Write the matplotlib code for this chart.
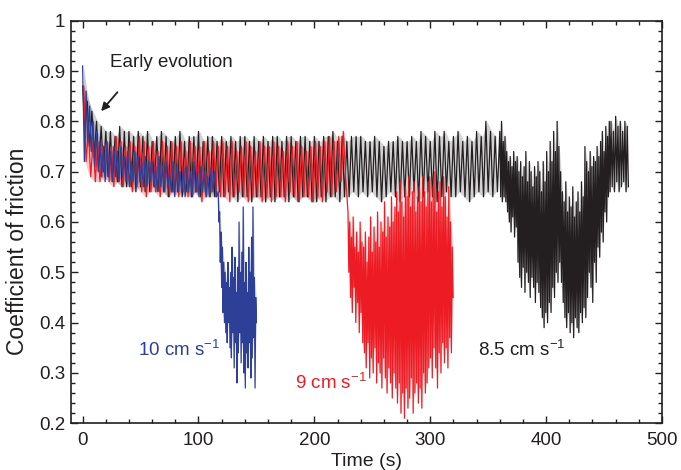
import numpy as np
import matplotlib
matplotlib.use('Agg')
import matplotlib.pyplot as plt
from matplotlib.ticker import MultipleLocator

plt.rcParams['font.family'] = ['Liberation Sans', 'DejaVu Sans']
plt.rcParams['mathtext.fontset'] = 'custom'
plt.rcParams['mathtext.rm'] = 'Liberation Sans'

# stick-slip peaks (hi) and troughs (lo), one pair per cycle,
# each trace split in segments with their own start time and cycle length

# 8.5 cm/s
black_t0, black_period = 0.0, 4.0
black_hi = [0.87, 0.84, 0.82, 0.80, 0.79, 0.78, 0.78, 0.77, 0.79, 0.78,
            0.78, 0.77, 0.78, 0.77, 0.78, 0.76, 0.77, 0.78, 0.77, 0.76,
            0.77, 0.78, 0.76, 0.77, 0.77, 0.78, 0.76, 0.77, 0.77, 0.76,
            0.77, 0.76, 0.77, 0.76, 0.77, 0.77, 0.76, 0.77, 0.76, 0.77,
            0.76, 0.77, 0.77, 0.76, 0.77, 0.77, 0.76, 0.77, 0.77, 0.76,
            0.77, 0.76, 0.77, 0.77, 0.78, 0.76, 0.77, 0.76, 0.77, 0.77,
            0.77, 0.76, 0.76, 0.77, 0.76, 0.75, 0.76, 0.76, 0.77, 0.76,
            0.76, 0.77, 0.76, 0.78, 0.77, 0.76, 0.78, 0.77, 0.78, 0.76,
            0.77, 0.78, 0.76, 0.77, 0.76, 0.78, 0.77, 0.80, 0.78, 0.77]
black_lo = [0.78, 0.75, 0.73, 0.71, 0.70, 0.69, 0.68, 0.68, 0.67, 0.67,
            0.67, 0.66, 0.67, 0.66, 0.66, 0.67, 0.66, 0.66, 0.65, 0.66,
            0.66, 0.65, 0.66, 0.65, 0.66, 0.65, 0.66, 0.65, 0.65, 0.66,
            0.65, 0.66, 0.65, 0.64, 0.65, 0.65, 0.64, 0.65, 0.65, 0.64,
            0.65, 0.64, 0.65, 0.65, 0.64, 0.65, 0.64, 0.65, 0.65, 0.64,
            0.64, 0.65, 0.64, 0.65, 0.65, 0.64, 0.65, 0.65, 0.66, 0.65,
            0.66, 0.65, 0.66, 0.65, 0.64, 0.65, 0.66, 0.65, 0.64, 0.65,
            0.65, 0.66, 0.64, 0.65, 0.66, 0.65, 0.64, 0.65, 0.66, 0.65,
            0.65, 0.66, 0.65, 0.64, 0.65, 0.66, 0.65, 0.66, 0.65, 0.66]
black_dip_t0, black_dip_period = 360.0, 1.5
black_dip_hi = [0.78, 0.80, 0.76, 0.77,
                0.74, 0.72, 0.73, 0.71, 0.74, 0.72,
                0.73, 0.70, 0.72, 0.69, 0.71, 0.74, 0.68, 0.72, 0.70, 0.67,
                0.71, 0.69, 0.72,
                0.70, 0.66, 0.72, 0.68, 0.74, 0.70, 0.76, 0.72, 0.78, 0.74,
                0.80, 0.75,
                0.70, 0.66, 0.64, 0.68, 0.62, 0.65, 0.63, 0.67, 0.61, 0.64,
                0.66, 0.62, 0.68, 0.65, 0.75,
                0.72, 0.70, 0.74, 0.71, 0.73, 0.72, 0.75, 0.73, 0.76, 0.78,
                0.74, 0.79, 0.77, 0.80]
black_dip_lo = [0.65, 0.64, 0.65, 0.64,
                0.62, 0.60, 0.58, 0.61, 0.57, 0.59,
                0.52, 0.49, 0.47, 0.51, 0.46, 0.50, 0.48, 0.45, 0.49, 0.47,
                0.44, 0.48, 0.46,
                0.43, 0.41, 0.39, 0.42, 0.40, 0.44, 0.42, 0.47, 0.45, 0.50,
                0.48, 0.52,
                0.48, 0.44, 0.41, 0.39, 0.42, 0.38, 0.40, 0.37, 0.41, 0.39,
                0.38, 0.42, 0.40, 0.43, 0.41,
                0.45, 0.50, 0.47, 0.44, 0.52, 0.48, 0.55, 0.53, 0.58, 0.56,
                0.62, 0.60, 0.65, 0.66]
black_end_t0, black_end_period = 456.0, 2.0
black_end_hi = [0.80, 0.78, 0.81, 0.79, 0.80, 0.78, 0.80, 0.79]
black_end_lo = [0.67, 0.66, 0.68, 0.66, 0.67, 0.68, 0.66, 0.67]

# 9 cm/s
red_t0, red_period = 1.0, 4.0
red_hi = [0.87, 0.78, 0.76, 0.76, 0.75, 0.76, 0.75, 0.77, 0.76, 0.75,
          0.76, 0.75, 0.77, 0.76, 0.75, 0.76, 0.74, 0.76, 0.75, 0.76,
          0.75, 0.76, 0.74, 0.76, 0.75, 0.75, 0.76, 0.74, 0.76, 0.75,
          0.76, 0.75, 0.76, 0.74, 0.75, 0.76, 0.75, 0.74, 0.76, 0.75,
          0.75, 0.76, 0.75, 0.74, 0.76, 0.75, 0.76, 0.75, 0.74, 0.75,
          0.76, 0.75, 0.76, 0.77, 0.76, 0.77, 0.78]
red_lo = [0.72, 0.69, 0.68, 0.68, 0.69, 0.68, 0.67, 0.68, 0.67, 0.68,
          0.66, 0.67, 0.66, 0.65, 0.66, 0.66, 0.65, 0.66, 0.65, 0.66,
          0.65, 0.66, 0.65, 0.65, 0.66, 0.64, 0.65, 0.66, 0.65, 0.65,
          0.65, 0.64, 0.65, 0.66, 0.65, 0.64, 0.65, 0.65, 0.64, 0.65,
          0.64, 0.65, 0.65, 0.64, 0.66, 0.65, 0.64, 0.65, 0.65, 0.64,
          0.65, 0.64, 0.66, 0.65, 0.66, 0.68, 0.69]
red_dip_t0, red_dip_period = 229.0, 1.5
red_dip_hi = [0.62, 0.60, 0.57, 0.61, 0.55, 0.58, 0.54, 0.60, 0.56,
              0.55, 0.58, 0.52, 0.57, 0.61, 0.54, 0.59, 0.56, 0.62, 0.55,
              0.60, 0.58, 0.64, 0.57, 0.61, 0.59, 0.65, 0.60, 0.63,
              0.66, 0.62, 0.68, 0.64, 0.61, 0.67, 0.65, 0.69, 0.63, 0.66,
              0.68, 0.62, 0.65, 0.67, 0.64, 0.69, 0.66, 0.63, 0.68,
              0.69, 0.64, 0.67, 0.70, 0.62, 0.66, 0.68, 0.63, 0.69, 0.65,
              0.61, 0.67, 0.60, 0.55]
red_dip_lo = [0.50, 0.45, 0.42, 0.47, 0.40, 0.44, 0.38, 0.42, 0.36,
              0.34, 0.31, 0.36, 0.29, 0.33, 0.30, 0.35, 0.28, 0.32, 0.30,
              0.27, 0.33, 0.29, 0.26, 0.31, 0.28, 0.25, 0.30, 0.27,
              0.24, 0.28, 0.22, 0.26, 0.21, 0.27, 0.23, 0.25, 0.29, 0.22,
              0.26, 0.28, 0.24, 0.27, 0.23, 0.30, 0.26, 0.28, 0.31,
              0.33, 0.29, 0.35, 0.31, 0.27, 0.34, 0.30, 0.36, 0.32, 0.35,
              0.31, 0.37, 0.34, 0.45]

# 10 cm/s
blue_t0, blue_period = 0.0, 3.0
blue_hi = [0.91, 0.86, 0.83, 0.80, 0.78, 0.76, 0.75, 0.76, 0.74, 0.75,
           0.74, 0.75, 0.73, 0.74, 0.72, 0.74, 0.73, 0.72, 0.73, 0.72,
           0.72, 0.71, 0.73, 0.71, 0.72, 0.70, 0.72, 0.71, 0.70, 0.71,
           0.71, 0.70, 0.72, 0.70, 0.71, 0.70, 0.69, 0.71, 0.70]
blue_lo = [0.72, 0.76, 0.74, 0.71, 0.70, 0.69, 0.68, 0.69, 0.68, 0.69,
           0.68, 0.69, 0.68, 0.67, 0.68, 0.67, 0.68, 0.67, 0.67, 0.68,
           0.67, 0.66, 0.67, 0.66, 0.67, 0.66, 0.65, 0.66, 0.66, 0.65,
           0.66, 0.65, 0.66, 0.65, 0.66, 0.65, 0.65, 0.66, 0.65]
blue_dip_t0, blue_dip_period = 117.0, 1.2
blue_dip_hi = [0.66, 0.62, 0.58, 0.55, 0.52, 0.50, 0.48, 0.52, 0.47, 0.50,
               0.55, 0.49, 0.53, 0.46, 0.51, 0.60, 0.50, 0.54, 0.63, 0.48,
               0.52, 0.46, 0.55, 0.50, 0.57, 0.63, 0.49, 0.45]
blue_dip_lo = [0.60, 0.52, 0.47, 0.42, 0.40, 0.38, 0.36, 0.40, 0.35, 0.33,
               0.38, 0.31, 0.36, 0.28, 0.34, 0.38, 0.32, 0.36, 0.30, 0.27,
               0.34, 0.31, 0.36, 0.29, 0.33, 0.37, 0.27, 0.40]

x_ticks = [0, 100, 200, 300, 400, 500]
y_ticks = [0.2, 0.3, 0.4, 0.5, 0.6, 0.7, 0.8, 0.9, 1.0]
y_tick_labels = ['0.2', '0.3', '0.4', '0.5', '0.6', '0.7', '0.8', '0.9', '1']


def zigzag(hi, lo, period, t0):
    # alternate peak / trough, half a period apart
    n = len(hi)
    t = np.empty(2 * n)
    v = np.empty(2 * n)
    t[0::2] = t0 + period * np.arange(n)
    t[1::2] = t0 + period * np.arange(n) + period / 2
    v[0::2] = hi
    v[1::2] = lo
    return t, v


def draw_trace(ax, segments, color, alpha):
    ts, vs = [], []
    for t0, period, hi, lo in segments:
        tc = t0 + period * np.arange(len(hi)) + period / 4
        ax.fill_between(tc, lo, hi, color=color, alpha=alpha, lw=0)
        t, v = zigzag(hi, lo, period, t0)
        ts.append(t)
        vs.append(v)
    ax.plot(np.concatenate(ts), np.concatenate(vs), color=color, lw=0.9)


ink = '#231f20'
red = '#ed1c24'
blue = '#2e3f98'
fig = plt.figure(figsize=(6.81, 4.70), dpi=100)
ax = fig.add_axes([0.1043, 0.0994, 0.8678, 0.8566])

draw_trace(ax, [(black_t0, black_period, black_hi, black_lo),
                (black_dip_t0, black_dip_period, black_dip_hi, black_dip_lo),
                (black_end_t0, black_end_period, black_end_hi, black_end_lo)],
           ink, 0.2)
draw_trace(ax, [(red_t0, red_period, red_hi, red_lo),
                (red_dip_t0, red_dip_period, red_dip_hi, red_dip_lo)],
           red, 0.25)
draw_trace(ax, [(blue_t0, blue_period, blue_hi, blue_lo),
                (blue_dip_t0, blue_dip_period, blue_dip_hi, blue_dip_lo)],
           blue, 0.25)

ax.set_xlim(-10, 500)
ax.set_ylim(0.2, 1.0)
ax.set_xticks(x_ticks)
ax.set_yticks(y_ticks)
ax.set_yticklabels(y_tick_labels)
ax.xaxis.set_minor_locator(MultipleLocator(20))
ax.yaxis.set_minor_locator(MultipleLocator(0.02))
ax.tick_params(which='both', direction='in', top=True, right=True,
               colors=ink, labelsize=13.5, width=1)
ax.tick_params(which='major', length=5)
ax.tick_params(axis='y', pad=4)
ax.tick_params(axis='x', pad=6)
ax.tick_params(which='minor', length=3)
for s in ax.spines.values():
    s.set_color(ink)
    s.set_linewidth(1.2)

ax.set_xlabel('Time (s)', fontsize=14, color=ink, labelpad=3)
ax.set_ylabel('Coefficient of friction', fontsize=16.5, color=ink)
ax.yaxis.set_label_coords(-0.071, 0.428)

ax.text(24, 0.917, 'Early evolution', fontsize=13.5, color=ink, va='center')
ax.annotate('', xy=(14.4, 0.816), xytext=(31.6, 0.862),
            arrowprops=dict(arrowstyle='-|>', color=ink, lw=1.3,
                            mutation_scale=12))
ax.text(48, 0.347, '10 cm s$^{-1}$', fontsize=13.5, color=blue, va='center')
ax.text(183, 0.28, '9 cm s$^{-1}$', fontsize=13.5, color=red, va='center')
ax.text(341, 0.347, '8.5 cm s$^{-1}$', fontsize=13.5, color=ink, va='center')

fig.savefig('out.png', dpi=100)
